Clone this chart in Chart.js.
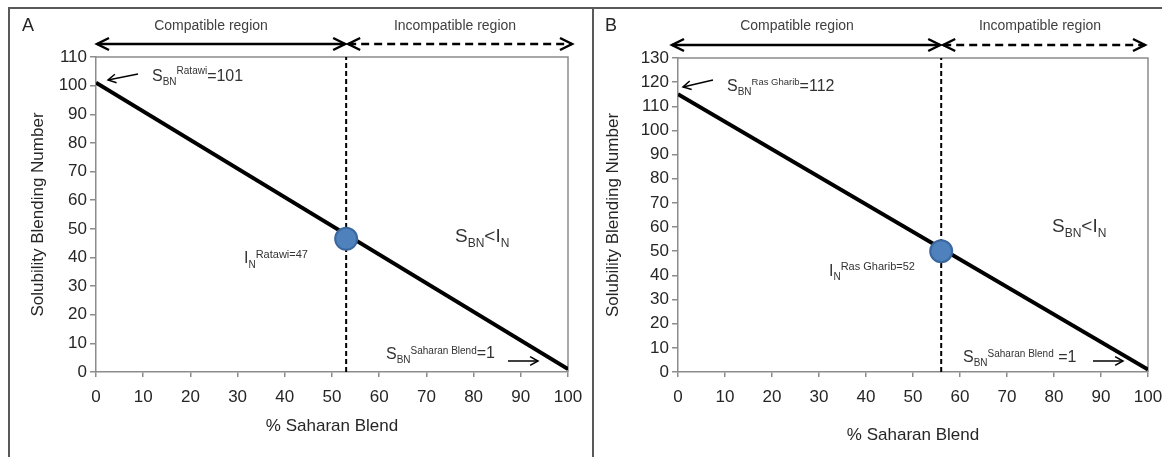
<!DOCTYPE html>
<html><head><meta charset="utf-8">
<script src="https://cdn.jsdelivr.net/npm/chart.js@4.4.1/dist/chart.umd.min.js"></script>
<style>
html,body{margin:0;padding:0;background:#fff;width:1162px;height:457px;overflow:hidden}
#wrap{position:relative;width:1162px;height:457px}
canvas{position:absolute;top:0}
#cA{left:0}
#cB{left:593px}
.fr{position:absolute;background:#595959}
</style></head><body>
<div id="wrap">
<canvas id="cA" width="593" height="457"></canvas>
<canvas id="cB" width="569" height="457"></canvas>
<div class="fr" style="left:8px;top:7px;width:1154px;height:2px"></div>
<div class="fr" style="left:8px;top:7px;width:2px;height:450px"></div>
<div class="fr" style="left:592px;top:7px;width:2px;height:450px"></div>
</div>
<script>
// ---- data ----
const blendPct = [0, 100];                 // % Saharan Blend at line ends
const sbnRatawi = [101, 1];                // SBN along the Ratawi blend line
const sbnRasGharib = [115, 1];             // SBN along the Ras Gharib blend line
const onsetX = [53, 56];                   // incompatibility onset (% Saharan Blend) A, B
const onsetY = [46.5, 50];                 // IN value at onset A, B
const xTickValues = [0,10,20,30,40,50,60,70,80,90,100];
const yTickValuesA = [0,10,20,30,40,50,60,70,80,90,100,110];
const yTickValuesB = [0,10,20,30,40,50,60,70,80,90,100,110,120,130];

const FAM = '"Liberation Sans", Arial, sans-serif';
const TXT = '#262626';
const AX = '#8c8c8c';

function rich(ctx, x, y, parts, color) {
  ctx.save();
  ctx.fillStyle = color; ctx.textBaseline = 'alphabetic'; ctx.textAlign = 'left';
  for (const [t, size, dy] of parts) {
    ctx.font = size + 'px ' + FAM;
    ctx.fillText(t, x, y + dy);
    x += ctx.measureText(t).width;
  }
  ctx.restore();
}
function head(ctx, x, y, dir, len, half) {
  ctx.beginPath();
  ctx.moveTo(x - dir * len, y - half);
  ctx.lineTo(x, y);
  ctx.lineTo(x - dir * len, y + half);
  ctx.stroke();
}
function smallArrow(ctx, x1, y1, x2, y2) {
  ctx.save();
  ctx.strokeStyle = '#000'; ctx.lineWidth = 1.5; ctx.setLineDash([]);
  ctx.beginPath(); ctx.moveTo(x1, y1); ctx.lineTo(x2, y2); ctx.stroke();
  const a = Math.atan2(y2 - y1, x2 - x1), L = 9, w = 0.5;
  ctx.beginPath();
  ctx.moveTo(x2 - L * Math.cos(a - w), y2 - L * Math.sin(a - w));
  ctx.lineTo(x2, y2);
  ctx.lineTo(x2 - L * Math.cos(a + w), y2 - L * Math.sin(a + w));
  ctx.stroke();
  ctx.restore();
}

function annotPlugin(P) {
  return {
    id: 'annot' + P.letter,
    beforeDatasetsDraw(chart) {
      const ctx = chart.ctx, ca = chart.chartArea;
      ctx.save();
      ctx.strokeStyle = AX; ctx.lineWidth = 1.5;
      ctx.beginPath(); ctx.moveTo(ca.left, ca.top); ctx.lineTo(ca.right, ca.top); ctx.lineTo(ca.right, ca.bottom); ctx.stroke();
      ctx.restore();
    },
    afterDraw(chart) {
      const ctx = chart.ctx, xs = chart.scales.x;
      const xd = xs.getPixelForValue(P.div);
      ctx.save();
      ctx.fillStyle = TXT; ctx.textBaseline = 'middle';
      ctx.font = '18px ' + FAM; ctx.textAlign = 'left';
      ctx.fillText(P.letter, P.letterX, 26);
      ctx.font = '14px ' + FAM; ctx.textAlign = 'center'; ctx.fillStyle = '#404040';
      ctx.fillText('Compatible region', P.compX, 26);
      ctx.fillText('Incompatible region', P.incX, 26);
      // region arrows
      ctx.strokeStyle = '#000'; ctx.lineWidth = 2.5;
      const x0 = xs.getPixelForValue(0) + P.arrL, x1 = xs.getPixelForValue(100) + P.arrR, ay = P.arrY;
      ctx.beginPath(); ctx.moveTo(x0, ay); ctx.lineTo(xd - 1, ay); ctx.stroke();
      head(ctx, x0, ay, -1, 12, 6); head(ctx, xd - 1, ay, 1, 12, 6);
      ctx.setLineDash([8, 5]);
      ctx.beginPath(); ctx.moveTo(xd + 2, ay); ctx.lineTo(x1, ay); ctx.stroke();
      ctx.setLineDash([]);
      head(ctx, xd + 2, ay, -1, 12, 6); head(ctx, x1, ay, 1, 12, 6);
      ctx.restore();
      // labels
      rich(ctx, P.top.x, P.top.y, P.top.parts, '#333');
      smallArrow(ctx, P.top.a[0], P.top.a[1], P.top.a[2], P.top.a[3]);
      rich(ctx, P.inn.x, P.inn.y, P.inn.parts, '#333');
      rich(ctx, P.rel.x, P.rel.y, P.rel.parts, '#333');
      rich(ctx, P.end.x, P.end.y, P.end.parts, '#333');
      smallArrow(ctx, P.end.a[0], P.end.a[1], P.end.a[2], P.end.a[3]);
    }
  };
}

function makeChart(id, P) {
  return new Chart(document.getElementById(id), {
    type: 'scatter',
    data: {
      datasets: [
        { data: [{x: P.div, y: P.onY}], pointRadius: 11, pointBackgroundColor: '#4F81BD',
          pointBorderColor: '#3A679E', pointBorderWidth: 2, showLine: false, order: 0 },
        { data: blendPct.map((v, i) => ({x: v, y: P.sbn[i]})), showLine: true, borderColor: '#000',
          borderWidth: 4, pointRadius: 0, order: 1 },
        { data: [{x: P.div, y: 0}, {x: P.div, y: P.yMax}], showLine: true, borderColor: '#000',
          borderWidth: 2, borderDash: [5, 3], pointRadius: 0, order: 2 }
      ]
    },
    options: {
      responsive: false, animation: false, devicePixelRatio: 1,
      layout: { padding: { left: P.padL, top: P.padT, right: P.padR, bottom: 0 } },
      plugins: { legend: { display: false }, tooltip: { enabled: false } },
      scales: {
        x: {
          type: 'linear', min: 0, max: 100,
          afterBuildTicks: s => { s.ticks = xTickValues.map(v => ({value: v})); },
          afterFit: s => { s.height = 85; s.paddingLeft = 0; s.paddingRight = 0; },
          grid: { drawOnChartArea: false, drawTicks: true, tickLength: 5, color: AX, lineWidth: 1.5 },
          border: { color: AX, width: 1.5 },
          ticks: { padding: 10, color: TXT, font: { family: FAM, size: 17 }, maxRotation: 0, autoSkip: false },
          title: { display: true, text: '% Saharan Blend', color: TXT, font: { family: FAM, size: 17 },
                   padding: { top: 4, bottom: P.xTitlePad } }
        },
        y: {
          min: 0, max: P.yMax,
          afterBuildTicks: s => { s.ticks = P.yTicks.map(v => ({value: v})); },
          afterFit: s => { s.width = P.yW; s.paddingTop = 0; s.paddingBottom = 0; },
          grid: { drawOnChartArea: false, drawTicks: true, tickLength: 6, color: AX, lineWidth: 1.5 },
          border: { color: AX, width: 1.5 },
          ticks: { padding: 3, color: TXT, font: { family: FAM, size: 17 }, autoSkip: false },
          title: { display: true, text: 'Solubility Blending Number', color: TXT, font: { family: FAM, size: 17 },
                   padding: { top: 4, bottom: 4 } }
        }
      }
    },
    plugins: [annotPlugin(P)]
  });
}

makeChart('cA', {
  letter: 'A', letterX: 22, compX: 211, incX: 455, arrY: 44, arrL: 1, arrR: 4,
  div: onsetX[0], onY: onsetY[0], sbn: sbnRatawi, yMax: 110, yTicks: yTickValuesA,
  padL: 24, yW: 72, padT: 57, padR: 25, xTitlePad: 20,
  top: { x: 152, y: 81, parts: [['S',16,0],['BN',10,4],['Ratawi',10,-7],['=101',16,0]], a: [138, 74, 108, 80] },
  inn: { x: 244, y: 263, parts: [['I',16,0],['N',10,5],['Ratawi=47',11,-5]] },
  rel: { x: 455, y: 242, parts: [['S',19,0],['BN',12,5],['<I',19,0],['N',12,5]] },
  end: { x: 386, y: 359, parts: [['S',16,0],['BN',10,4],['Saharan Blend',10,-5],['=1',16,-1]], a: [508, 361, 538, 361] }
});
makeChart('cB', {
  letter: 'B', letterX: 12, compX: 204, incX: 447, arrY: 45, arrL: -6, arrR: -3,
  div: onsetX[1], onY: onsetY[1], sbn: sbnRasGharib, yMax: 130, yTicks: yTickValuesB,
  padL: 6, yW: 79, padT: 58, padR: 14, xTitlePad: 11,
  top: { x: 134, y: 91, parts: [['S',16,0],['BN',10,4],['Ras Gharib',9.5,-6],['=112',16,0]], a: [120, 80, 90, 87] },
  inn: { x: 236, y: 276, parts: [['I',16,0],['N',10,4],['Ras Gharib=52',11,-6]] },
  rel: { x: 459, y: 232, parts: [['S',19,0],['BN',12,5],['<I',19,0],['N',12,5]] },
  end: { x: 370, y: 362, parts: [['S',16,0],['BN',10,4],['Saharan Blend',10,-5],[' =1',16,0]], a: [500, 361, 530, 361] }
});
</script>
</body></html>
